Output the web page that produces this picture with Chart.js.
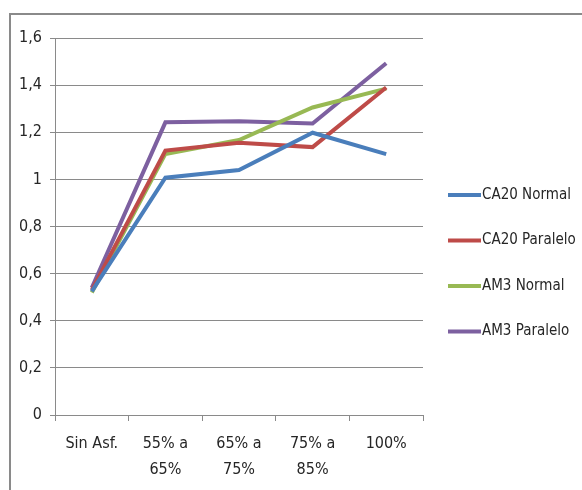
<!DOCTYPE html>
<html><head><meta charset="utf-8">
<script src="https://cdn.jsdelivr.net/npm/chart.js@4/dist/chart.umd.min.js"></script>
<style>
html,body{margin:0;padding:0;background:#fff;}
#wrap{position:relative;width:582px;height:490px;overflow:hidden;}
#frame{position:absolute;left:9px;top:13px;width:600px;height:500px;border-left:2px solid #8a8a8a;border-top:2px solid #8a8a8a;box-sizing:border-box;}
canvas{position:absolute;left:0;top:0;}
</style></head>
<body><div id="wrap"><div id="frame"></div><canvas id="c" width="582" height="490"></canvas></div>
<script>
const categories = [["Sin Asf."], ["55% a", "65%"], ["65% a", "75%"], ["75% a", "85%"], ["100%"]];
const seriesNames = ["CA20 Normal", "CA20 Paralelo", "AM3 Normal", "AM3 Paralelo"];
const ca20Normal = [0.525, 1.007, 1.04, 1.198, 1.107];
const ca20Paralelo = [0.53, 1.122, 1.155, 1.137, 1.39];
const am3Normal = [0.52, 1.108, 1.167, 1.305, 1.385];
const am3Paralelo = [0.54, 1.242, 1.247, 1.237, 1.493];
const yTicks = [0, 0.2, 0.4, 0.6, 0.8, 1, 1.2, 1.4, 1.6];

const colors = ["#4A7EBB", "#BE4B48", "#98B954", "#7D60A0"];
const FONT = "'DejaVu Sans Condensed',sans-serif";
const seriesValues = [ca20Normal, ca20Paralelo, am3Normal, am3Paralelo];

const legendPlugin = {
  id: 'customLegend',
  afterDraw(chart) {
    const ctx = chart.ctx;
    ctx.save();
    ctx.font = "15px " + FONT;
    ctx.textBaseline = 'middle';
    chart.data.datasets.forEach((ds, i) => {
      const y = 195 + i * 45.5;
      ctx.strokeStyle = ds.borderColor;
      ctx.lineWidth = 4;
      ctx.beginPath();
      ctx.moveTo(448, y);
      ctx.lineTo(481, y);
      ctx.stroke();
      ctx.fillStyle = '#262626';
      ctx.fillText(ds.label, 482, y);
    });
    ctx.restore();
  }
};

new Chart(document.getElementById('c'), {
  type: 'line',
  data: {
    labels: categories,
    datasets: seriesNames.map((n, i) => ({
      label: n,
      data: seriesValues[i],
      borderColor: colors[i],
      backgroundColor: colors[i],
      borderWidth: 4,
      pointRadius: 0,
      tension: 0,
      fill: false
    }))
  },
  options: {
    responsive: false,
    animation: false,
    layout: { padding: { left: 10, right: 159, top: 38, bottom: 0 } },
    plugins: { legend: { display: false }, tooltip: { enabled: false } },
    scales: {
      x: {
        offset: true,
        grid: { offset: true, drawOnChartArea: false, drawTicks: true, tickLength: 6, color: '#8a8a8a', lineWidth: 1 },
        border: { color: '#8a8a8a', width: 1 },
        ticks: { color: '#262626', font: { family: FONT, size: 16, lineHeight: 1.6 }, maxRotation: 0, autoSkip: false, padding: 10 },
        afterFit(scale) { scale.height = 75; }
      },
      y: {
        min: 0, max: 1.6,
        afterBuildTicks(scale) { scale.ticks = yTicks.map(v => ({ value: v })); },
        grid: { color: '#8a8a8a', lineWidth: 1, tickLength: 5, drawTicks: true },
        border: { color: '#8a8a8a', width: 1 },
        ticks: {
          color: '#262626', font: { family: FONT, size: 16 }, padding: 8,
          callback: v => String(Number(v.toFixed(1))).replace('.', ',')
        },
        afterFit(scale) { scale.width = 45; }
      }
    }
  },
  plugins: [legendPlugin]
});
</script>
</body></html>
